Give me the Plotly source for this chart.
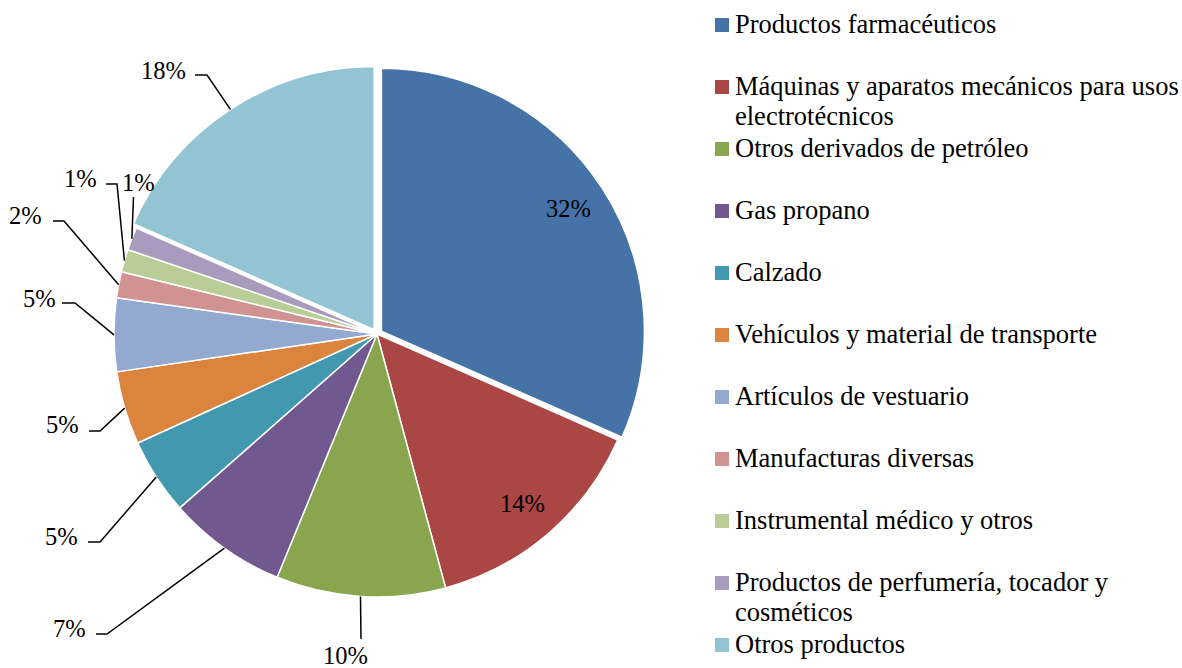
import math
import textwrap
import plotly.graph_objects as go

# Participación por producto (%)
categorias = [
    "Productos farmacéuticos",
    "Máquinas y aparatos mecánicos para usos electrotécnicos",
    "Otros derivados de petróleo",
    "Gas propano",
    "Calzado",
    "Vehículos y material de transporte",
    "Artículos de vestuario",
    "Manufacturas diversas",
    "Instrumental médico y otros",
    "Productos de perfumería, tocador y cosméticos",
    "Otros productos",
]
participacion = [31.6, 14.2, 10.4, 7.3, 4.7, 4.5, 4.5, 1.6, 1.4, 1.4, 18.4]
colores = ["#4572A7", "#AA4643", "#89A54E", "#71588F", "#4198AF", "#DB843D",
           "#93A9CF", "#D19392", "#B9CD96", "#A99BBD", "#93C4D4"]
separacion = [0.02, 0, 0, 0, 0, 0, 0, 0, 0, 0, 0.02]

W, H = 1182, 668
FONT = "Liberation Serif, Times New Roman, serif"
PIE_CX, PIE_CY, PIE_R = 377, 334, 263

# etiquetas fuera del círculo: posición del texto y codo de la línea guía (px)
etiquetas_fuera = {
    2: dict(x=345, y=655, anchor="center", linea=[(361, 639)]),
    3: dict(x=88, y=628, anchor="right", linea=[(96, 634), (107, 634)]),
    4: dict(x=80, y=536, anchor="right", linea=[(88, 542), (100, 542)]),
    5: dict(x=81, y=424, anchor="right", linea=[(89, 431), (100, 431)]),
    6: dict(x=58, y=298, anchor="right", linea=[(62, 303), (75, 303)]),
    7: dict(x=44, y=215, anchor="right", linea=[(53, 221), (64, 221)]),
    8: dict(x=99, y=178, anchor="right", linea=[(106, 184), (117, 184)]),
    9: dict(x=138, y=183, anchor="center", linea=[(133.5, 197)]),
    10: dict(x=188, y=70, anchor="right", linea=[(195, 75), (207, 75)]),
}


def px(x):
    return x / W


def py(y):
    return 1 - y / H


total = sum(participacion)


def punto(i, factor=1.0):
    ini = sum(participacion[:i]) / total
    ang = (ini + participacion[i] / total / 2) * 2 * math.pi
    d = PIE_R * (factor + separacion[i])
    return PIE_CX + d * math.sin(ang), PIE_CY - d * math.cos(ang)


def texto_pct(v):
    return "%d%%" % math.floor(v / total * 100 + 0.5 + 1e-9)


half = PIE_R * (1 + max(separacion))
fig = go.Figure(go.Pie(
    labels=categorias, values=participacion, sort=False, direction="clockwise",
    rotation=0, pull=separacion, textinfo="none", showlegend=False,
    marker=dict(colors=colores, line=dict(color="white", width=1.5)),
    domain=dict(x=[px(PIE_CX - half), px(PIE_CX + half)],
                y=[py(PIE_CY + half), py(PIE_CY - half)]),
))

annotations = []
shapes = []
for i, v in enumerate(participacion):
    if i in etiquetas_fuera:
        e = etiquetas_fuera[i]
        annotations.append(dict(x=px(e["x"]), y=py(e["y"]), text=texto_pct(v),
                                xanchor=e["anchor"], yanchor="middle", showarrow=False))
        pts = e["linea"] + [punto(i)]
        path = "M" + " L".join("%.5f,%.5f" % (px(a), py(b)) for a, b in pts)
        shapes.append(dict(type="path", path=path, xref="paper", yref="paper",
                           line=dict(color="black", width=1.5)))
    else:
        x, y = punto(i, 0.85)
        annotations.append(dict(x=px(x), y=py(y), text=texto_pct(v),
                                xanchor="center", yanchor="middle", showarrow=False))

# leyenda
for i, nombre in enumerate(categorias):
    yc = 25 + 62 * i
    shapes.append(dict(type="rect", xref="paper", yref="paper",
                       x0=px(715), x1=px(729), y0=py(yc - 7), y1=py(yc + 7),
                       fillcolor=colores[i], line=dict(width=0)))
    for k, linea in enumerate(textwrap.wrap(nombre, 39)):
        annotations.append(dict(x=px(733), y=py(yc - 1 + 30 * k), text=linea,
                                xanchor="left", yanchor="middle", showarrow=False,
                                font=dict(size=26.5)))

fig.update_layout(
    width=W, height=H, margin=dict(l=0, r=0, t=0, b=0),
    paper_bgcolor="white", plot_bgcolor="white",
    font=dict(family=FONT, size=24.5, color="black"),
    annotations=annotations, shapes=shapes,
)
fig.write_html("out.html", config={"displayModeBar": False},
               post_script="document.body.style.margin='0';")
